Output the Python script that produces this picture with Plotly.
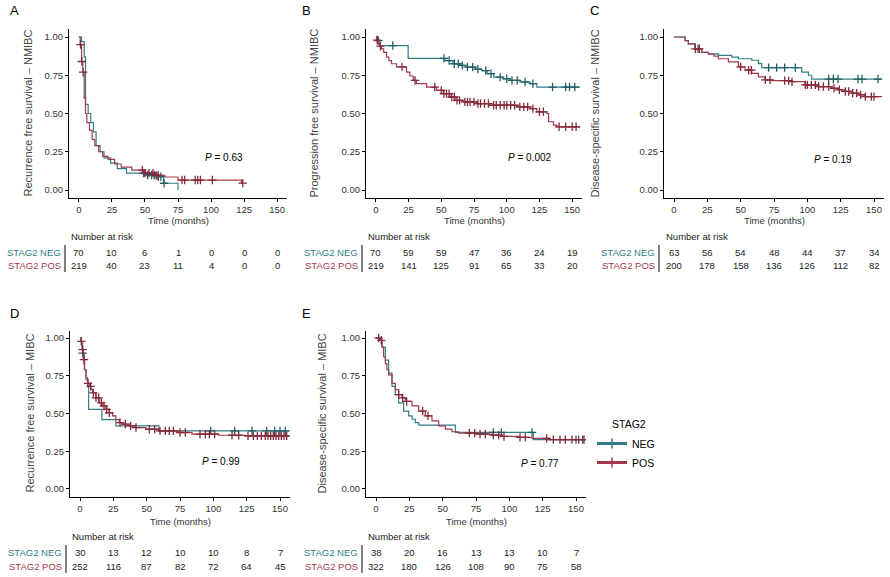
import numpy as np
import plotly.graph_objects as go

W, H = 890, 577
NEG_COLOR = '#2f7f86'
POS_COLOR = '#a33a4b'
NEG_MARK = '#245f66'
POS_MARK = '#852a3a'
FONT = 'Liberation Sans, Arial, sans-serif'

x_ticks = [0, 25, 50, 75, 100, 125, 150]
y_ticks = [0, 0.25, 0.5, 0.75, 1.0]
risk_times = [0, 25, 50, 75, 100, 125, 150]

# A - recurrence free survival, NMIBC
a_neg_time = [0, 2, 4, 5, 7, 9, 11, 13, 16, 19, 24, 29, 36, 51, 59, 64, 75]
a_neg_surv = [1.0, 0.97, 0.87, 0.56, 0.5, 0.44, 0.38, 0.29, 0.25, 0.21, 0.175, 0.14, 0.11, 0.098, 0.087, 0.044, 0.0]
a_neg_end = 75
a_neg_cens = [49, 52, 55, 57, 60, 62, 64.5]
a_pos_time = [0, 1, 2, 3, 4, 5, 6, 8, 10, 12, 15, 18, 22, 27, 32, 40, 50, 58, 65, 75, 123]
a_pos_surv = [1.0, 0.95, 0.84, 0.77, 0.6, 0.5, 0.44, 0.39, 0.33, 0.29, 0.25, 0.22, 0.2, 0.17, 0.15, 0.13, 0.11, 0.095, 0.085, 0.065, 0.045]
a_pos_end = 124
a_pos_cens = [1.2, 2.2, 3.2, 48, 50, 53, 56, 58.5, 60, 78, 80, 88, 90, 92, 101, 124]
a_risk_neg = [70, 10, 6, 1, 0, 0, 0]
a_risk_pos = [219, 40, 23, 11, 4, 0, 0]
a_pval = '0.63'

# B - progression free survival, NMIBC
b_neg_time = [0, 1, 3, 24.7, 52.8, 59, 64, 69, 76, 81, 85, 90, 97, 102.5, 110, 118, 123]
b_neg_surv = [1.0, 0.976, 0.944, 0.86, 0.846, 0.825, 0.814, 0.803, 0.79, 0.78, 0.76, 0.738, 0.727, 0.716, 0.706, 0.695, 0.673]
b_neg_end = 156
b_neg_cens = [2, 13, 52, 56, 60, 63, 66, 70, 74, 78, 84, 88, 95, 100, 104, 108, 114, 120, 135, 145, 148, 152]
b_pos_time = [0, 0.5, 1.8, 3, 4.3, 6, 8.2, 10, 12, 15.8, 23.5, 26, 28.6, 31, 38.8, 46.4, 51.5, 56.6, 60.4,
              66.8, 77, 87, 107.6, 117.8, 123, 130.6, 132, 135.7, 138.3]
b_pos_surv = [1.0, 0.98, 0.955, 0.94, 0.922, 0.9, 0.868, 0.845, 0.825, 0.805, 0.771, 0.745, 0.716, 0.695, 0.673,
              0.651, 0.63, 0.608, 0.586, 0.576, 0.565, 0.554, 0.543, 0.532, 0.511, 0.5, 0.446, 0.424, 0.413]
b_pos_end = 156
b_pos_cens = [1, 3.5, 20, 30, 45, 50, 52, 54, 56, 58, 60, 62, 64, 68, 70, 72, 75, 78, 80, 83, 86, 90, 92, 95,
              98, 100, 103, 106, 110, 113, 116, 120, 125, 128, 140, 145, 150, 153]
b_risk_neg = [70, 59, 59, 47, 36, 24, 19]
b_risk_pos = [219, 141, 125, 91, 65, 33, 20]
b_pval = '0.002'

# C - disease-specific survival, NMIBC
c_neg_time = [0, 8.3, 10.8, 15.8, 20.8, 25.8, 33.3, 43.3, 48.3, 58.3, 63.3, 65.8, 95.8, 100.8, 103.3]
c_neg_surv = [1.0, 0.976, 0.955, 0.923, 0.9, 0.89, 0.88, 0.868, 0.858, 0.848, 0.826, 0.8, 0.77, 0.75, 0.725]
c_neg_end = 156
c_neg_cens = [18, 71, 77, 83, 91, 116, 119.5, 123, 138, 141, 153]
c_pos_time = [0, 8.3, 10.8, 15.8, 20.8, 25.8, 30, 33.3, 40.8, 48.3, 53.3, 58.3, 63.3, 68.3, 73.3, 88.3, 98.3,
              108.3, 118.3, 123.3, 128.3, 133.3, 138.3, 143.3]
c_pos_surv = [1.0, 0.976, 0.955, 0.923, 0.9, 0.888, 0.875, 0.858, 0.837, 0.805, 0.783, 0.762, 0.74, 0.72, 0.715,
              0.708, 0.687, 0.676, 0.665, 0.655, 0.644, 0.633, 0.622, 0.61]
c_pos_end = 156
c_pos_cens = [16, 19, 50, 56, 58, 68.5, 72, 83, 86, 88.5, 98.5, 100, 103, 106, 108.5, 112, 116, 120, 124, 128.5,
              131, 134, 137, 140, 143.5, 148, 150]
c_risk_neg = [63, 56, 54, 48, 44, 37, 34]
c_risk_pos = [200, 178, 158, 136, 126, 112, 82]
c_pval = '0.19'

# D - recurrence free survival, MIBC
d_neg_time = [0, 1, 2, 3.2, 4.5, 5.7, 6.5, 16.4, 26.9, 59.2]
d_neg_surv = [1.0, 0.967, 0.9, 0.79, 0.725, 0.68, 0.527, 0.46, 0.418, 0.385]
d_neg_end = 157
d_neg_cens = [2, 98, 116, 129, 140, 146, 150, 154]
d_pos_time = [0, 0.7, 1.5, 2.5, 3.5, 4.5, 5.7, 7, 8.2, 9.5, 11.9, 14.4, 16.9, 19.4, 21.9, 24.4, 26.9, 29.4,
              31.8, 36.8, 41.8, 49.3, 59.2, 74.1, 84, 104, 124]
d_pos_surv = [1.0, 0.978, 0.923, 0.857, 0.79, 0.736, 0.7, 0.68, 0.66, 0.637, 0.604, 0.571, 0.55, 0.527, 0.505,
              0.484, 0.46, 0.44, 0.43, 0.418, 0.407, 0.396, 0.385, 0.374, 0.363, 0.356, 0.352]
d_pos_end = 157
d_pos_cens = [1, 2, 3, 6, 8, 10, 12, 14, 16, 18, 20, 22, 30, 34, 38, 42, 52, 56, 60, 64, 67, 70, 75, 79, 90,
              94, 97, 101, 114, 119, 126, 130, 133, 136, 139, 141, 143, 145, 147, 149, 151, 153, 155]
d_risk_neg = [30, 13, 12, 10, 10, 8, 7]
d_risk_pos = [252, 116, 87, 82, 72, 64, 45]
d_pval = '0.99'

# E - disease-specific survival, MIBC
e_neg_time = [0, 2.5, 4.5, 7, 9.5, 12, 14.5, 17, 20.7, 24.5, 27, 29.5, 32, 59.5, 118]
e_neg_surv = [1.0, 0.985, 0.94, 0.854, 0.767, 0.68, 0.625, 0.57, 0.516, 0.484, 0.462, 0.44, 0.423, 0.375, 0.327]
e_neg_end = 157
e_neg_cens = [88, 94, 117, 150, 155]
e_pos_time = [0, 3.2, 4.5, 5.7, 7, 8.2, 9.5, 12, 14.5, 17, 19.5, 22, 27, 32, 37, 42, 47, 52, 57, 62, 74.5, 87,
              94.5, 107, 117, 129.5]
e_pos_surv = [1.0, 0.985, 0.94, 0.876, 0.83, 0.79, 0.756, 0.7, 0.658, 0.625, 0.603, 0.58, 0.55, 0.516, 0.484,
              0.451, 0.418, 0.397, 0.379, 0.37, 0.364, 0.357, 0.348, 0.342, 0.335, 0.327]
e_pos_end = 157
e_pos_cens = [2, 4, 17, 20, 23, 35, 39, 70, 74, 78, 82, 88, 92, 96, 108, 112, 128, 133, 138, 142, 147, 152, 156]
e_risk_neg = [38, 20, 16, 13, 13, 10, 7]
e_risk_pos = [322, 180, 126, 108, 90, 75, 58]
e_pval = '0.77'

y_titles = {
    'A': 'Recurrence free survival \u2013 NMIBC',
    'B': 'Progression free survival \u2013 NMIBC',
    'C': 'Disease-specific survival \u2013 NMIBC',
    'D': 'Recurrence free survival \u2013 MIBC',
    'E': 'Disease-specific survival \u2013 MIBC',
}

panels = [
    dict(key='A', neg=(a_neg_time, a_neg_surv, a_neg_end, a_neg_cens), pos=(a_pos_time, a_pos_surv, a_pos_end, a_pos_cens),
         risk_neg=a_risk_neg, risk_pos=a_risk_pos, pval=a_pval),
    dict(key='B', neg=(b_neg_time, b_neg_surv, b_neg_end, b_neg_cens), pos=(b_pos_time, b_pos_surv, b_pos_end, b_pos_cens),
         risk_neg=b_risk_neg, risk_pos=b_risk_pos, pval=b_pval),
    dict(key='C', neg=(c_neg_time, c_neg_surv, c_neg_end, c_neg_cens), pos=(c_pos_time, c_pos_surv, c_pos_end, c_pos_cens),
         risk_neg=c_risk_neg, risk_pos=c_risk_pos, pval=c_pval),
    dict(key='D', neg=(d_neg_time, d_neg_surv, d_neg_end, d_neg_cens), pos=(d_pos_time, d_pos_surv, d_pos_end, d_pos_cens),
         risk_neg=d_risk_neg, risk_pos=d_risk_pos, pval=d_pval),
    dict(key='E', neg=(e_neg_time, e_neg_surv, e_neg_end, e_neg_cens), pos=(e_pos_time, e_pos_surv, e_pos_end, e_pos_cens),
         risk_neg=e_risk_neg, risk_pos=e_risk_pos, pval=e_pval),
]

# layout in pixels: plot box (left, right, top, bottom), text rows, label spots
boxes = {'A': (69, 287, 29.35, 197.65), 'B': (366, 582, 29.35, 197.65), 'C': (664, 884, 29.35, 197.65),
         'D': (70, 290, 330.5, 496.5), 'E': (366, 586, 330.5, 496.5)}
rows_top = dict(xtitle=220, nar=236, neg=252, pos=265)
rows_bot = dict(xtitle=521, nar=536, neg=552, pos=566)
ytitle_x = {'A': 27, 'B': 313, 'C': 594, 'D': 30, 'E': 322}
letter_pos = {'A': (8, 11), 'B': (300, 11), 'C': (588, 11), 'D': (8, 313), 'E': (300, 313)}
bar_x = {'A': 65, 'B': 362, 'C': 659, 'D': 66, 'E': 362}
pval_pos = {'A': (110, 0.21), 'B': (118, 0.21), 'C': (119, 0.2), 'D': (106, 0.18), 'E': (123, 0.17)}


def px(x):
    return x / W


def py(y):
    return 1 - y / H


def step_at(times, surv, t):
    idx = np.searchsorted(np.asarray(times), np.asarray(t), side='right') - 1
    return list(np.asarray(surv)[idx])


def label(text, x, y, size, color='#222222', xref='paper', yref='paper', xanchor='center', angle=0):
    return dict(text=text, x=x, y=y, xref=xref, yref=yref, xanchor=xanchor, yanchor='middle',
                textangle=angle, showarrow=False, font=dict(size=size, color=color, family=FONT))


fig = go.Figure()
annotations = []
shapes = []

for n, p in enumerate(panels, start=1):
    k = p['key']
    xa = 'x' if n == 1 else f'x{n}'
    ya = 'y' if n == 1 else f'y{n}'
    l, r, t, b = boxes[k]
    rows = rows_top if k in 'ABC' else rows_bot

    for grp, col, mcol in (('neg', NEG_COLOR, NEG_MARK), ('pos', POS_COLOR, POS_MARK)):
        times, surv, end, cens = p[grp]
        fig.add_trace(go.Scatter(
            x=list(times) + [end], y=list(surv) + [surv[-1]],
            mode='lines', line=dict(shape='hv', color=col, width=1.2),
            xaxis=xa, yaxis=ya, showlegend=False, hoverinfo='skip'))
        fig.add_trace(go.Scatter(
            x=cens, y=step_at(times, surv, cens), mode='markers',
            marker=dict(symbol='cross-thin', size=6, color=mcol, line=dict(color=mcol, width=1.3)),
            xaxis=xa, yaxis=ya, showlegend=False, hoverinfo='skip'))

    axis_common = dict(showline=True, linecolor='black', linewidth=1.2, ticks='outside', ticklen=3,
                       tickwidth=1, tickcolor='black', showgrid=False, zeroline=False,
                       tickfont=dict(size=9.5, color='#333333', family=FONT))
    fig.update_layout(**{
        ('xaxis' if n == 1 else f'xaxis{n}'): dict(domain=[px(l), px(r)], range=[-7.5, 157.5], anchor=ya,
                                                    tickvals=x_ticks, **axis_common),
        ('yaxis' if n == 1 else f'yaxis{n}'): dict(domain=[py(b), py(t)], range=[-0.05, 1.05], anchor=xa,
                                                    tickvals=y_ticks, tickformat='.2f', **axis_common),
    })

    lx, ly = letter_pos[k]
    annotations.append(label(k, px(lx), py(ly), 13, 'black', xanchor='left'))
    annotations.append(label(y_titles[k], px(ytitle_x[k]), py((t + b) / 2), 11, '#444444', angle=-90))
    annotations.append(label('Time (months)', 75, py(rows['xtitle']), 9.5, '#333333', xref=xa))
    pxv, pyv = pval_pos[k]
    annotations.append(label(f'<i>P</i> = {p["pval"]}', pxv, pyv, 10, 'black', xref=xa, yref=ya))

    # number at risk table
    annotations.append(label('Number at risk', px(l), py(rows['nar']), 9.5, xanchor='left'))
    for grp, col, name in (('neg', NEG_COLOR, 'STAG2 NEG'), ('pos', POS_COLOR, 'STAG2 POS')):
        annotations.append(label(name, px(bar_x[k] - 2), py(rows[grp]), 9.5, col, xanchor='right'))
        for tt, val in zip(risk_times, p['risk_' + grp]):
            annotations.append(label(str(val), tt, py(rows[grp]), 9.5, xref=xa))
    shapes.append(dict(type='line', xref='paper', yref='paper', x0=px(bar_x[k]), x1=px(bar_x[k]),
                       y0=py(rows['neg'] - 7), y1=py(rows['pos'] + 7), line=dict(color='black', width=1)))

# legend entries
for name, col in (('NEG', NEG_COLOR), ('POS', POS_COLOR)):
    fig.add_trace(go.Scatter(x=[None], y=[None], mode='lines+markers', name=name,
                             line=dict(color=col, width=3),
                             marker=dict(symbol='cross-thin', size=7, color=col, line=dict(color=col, width=1.5))))

annotations.append(label('STAG2', px(610), py(424), 10.5, 'black', xanchor='left'))

fig.update_layout(
    width=W, height=H,
    margin=dict(l=0, r=0, t=0, b=0),
    paper_bgcolor='white',
    plot_bgcolor='white',
    font=dict(family=FONT),
    showlegend=True,
    legend=dict(x=px(592), y=py(429), xanchor='left', yanchor='top', bgcolor='rgba(0,0,0,0)',
                font=dict(size=10.5, color='black', family=FONT), itemwidth=30, tracegroupgap=0),
    annotations=annotations,
    shapes=shapes,
)

# the page body has a default 8px margin; drop it so the figure sits at the window origin
fig.write_html('out.html', config={'displayModeBar': False},
               post_script="document.body.style.margin='0px';")
